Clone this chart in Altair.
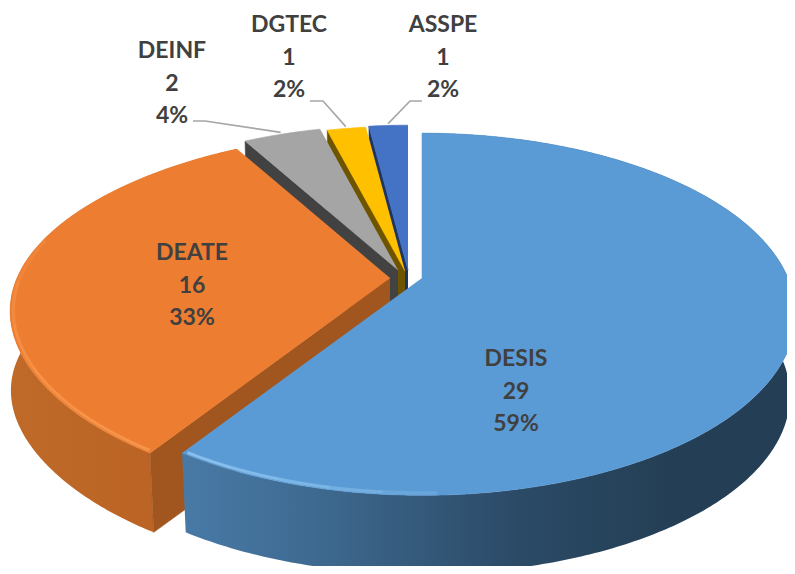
import math
import altair as alt
import pandas as pd

# ---- chart values ----
NAMES = ["DESIS", "DEATE", "DEINF", "DGTEC", "ASSPE"]
COUNTS = [29, 16, 2, 1, 1]
PERCENTS = ["59%", "33%", "4%", "2%", "2%"]

# ---- styles ----
TOP = ["#5b9bd5", "#ed7d31", "#a5a5a5", "#ffc000", "#4472c4"]
CUT = ["#223f57", "#a0561e", "#424242", "#6f5400", "#1f3560"]
INK = "#404040"

# ---- layout (page pixels) ----
APEX = [(422, 278), (390, 278), (398, 270), (405, 271), (408, 270)]
BULGE = [0.0, 0.019, 0.0, 0.0, 0.0]
LOW_BULGE = [0.0, 0.034, 0.0, 0.0, 0.0]
RX, RY, PERSP, DEPTH, SHRINK = 366, 173.8, 0.2, 82, 0.985
W, H = 779, 558
LABEL_XY = [(516, 359), (192, 253), (172, 51), (289, 25), (443, 25)]
LINE_STEP = 32.5
LEADERS = {2: (193, 121, 205, 121), 3: (310, 101, 323, 101), 4: (422, 101, 410, 101)}

X = alt.X("x:Q", axis=None, scale=alt.Scale(domain=[8, 8 + W], nice=False, zero=False))
Y = alt.Y("y:Q", axis=None, scale=alt.Scale(domain=[8 + H, 8], nice=False, zero=False))

total = sum(COUNTS)
edges = [0.0]
for c in COUNTS:
    edges.append(edges[-1] + 360.0 * c / total)


def pt(i, deg, r=1.0, low=False):
    a = math.radians(deg)
    u, v = r * math.sin(a), -r * math.cos(a)
    w = 1 - PERSP * v
    span = math.pi * (deg - edges[i]) / (edges[i + 1] - edges[i])
    bulge = LOW_BULGE[i] if low else BULGE[i]
    dx, dy = RX * u / w * (1 + bulge * math.sin(span) ** 2), RY * v / w
    if low:
        dx, dy = dx * SHRINK, dy * SHRINK + DEPTH
    return APEX[i][0] + dx, APEX[i][1] + dy


def arc(i, a0, a1, r=1.0, low=False):
    n = max(3, int(abs(a1 - a0) * 1.5))
    return [pt(i, a0 + (a1 - a0) * k / n, r, low) for k in range(n + 1)]


def frame(points):
    return pd.DataFrame({"x": [p[0] for p in points], "y": [p[1] for p in points], "i": range(len(points))})


def poly(points, fill):
    mark = dict(fill=fill, clip=True, interpolate="linear")
    if isinstance(fill, str):
        mark.update(stroke=fill, strokeWidth=0.6)
    else:
        mark.update(strokeWidth=0)
    return alt.Chart(frame(points)).mark_line(**mark).encode(x=X, y=Y, order="i:Q")


def stroke(points, color, width=2.0, opacity=1.0):
    return (
        alt.Chart(frame(points))
        .mark_line(stroke=color, strokeWidth=width, opacity=opacity, clip=True, strokeCap="butt")
        .encode(x=X, y=Y, order="i:Q")
    )


def soft(i, a0, a1, color, peak=0.5, r=0.992):
    out = []
    for frac, w in ((1.0, 3.6), (0.8, 3.1), (0.6, 2.6), (0.4, 2.1), (0.2, 1.6)):
        out.append(stroke(arc(i, a0, a0 + (a1 - a0) * frac, r), color, w, peak / 5))
    return out


def grad(*stops):
    return alt.Gradient(
        gradient="linear", x1=0, x2=1, y1=0, y2=0,
        stops=[alt.GradientStop(offset=o, color=c) for o, c in stops],
    )


layers = []
for i in (4, 3, 2):
    a0, a1 = edges[i], edges[i + 1]
    ax, ay = APEX[i]
    layers.append(poly([(ax, ay), pt(i, a0), pt(i, a0, low=True), (ax, ay + DEPTH)], CUT[i]))
    layers.append(poly([(ax, ay)] + arc(i, a0, a1), TOP[i]))

# DEATE
a0, a1 = edges[1], edges[2]
ax, ay = APEX[1]
layers.append(poly(arc(1, a0, a1) + arc(1, a1, a0, low=True),
                   grad((0, "#bf6a28"), (0.6, "#bb6425"), (1, "#b55f22"))))
layers.append(poly([(ax, ay), pt(1, a0), pt(1, a0, low=True), (ax, ay + DEPTH)], CUT[1]))
layers.append(poly([(ax, ay)] + arc(1, a0, a1), TOP[1]))
layers += soft(1, a0 + 0.5, a0 + 70, "#ffa55c", 0.9)

# DESIS
a0, a1 = edges[0], edges[1]
ax, ay = APEX[0]
layers.append(poly(arc(0, 0, a1) + arc(0, a1, 0, low=True),
                   grad((0, "#487aa6"), (0.2, "#3f6b92"), (0.55, "#2b4a66"), (0.8, "#243f55"), (1, "#243f55"))))
layers.append(poly([(ax, ay)] + arc(0, a0, a1), TOP[0]))
layers += soft(0, a1 - 0.5, a1 - 35, "#a6d8ff", 0.9)

for i, (x0, y0, x1, y1) in LEADERS.items():
    mid = (edges[i] + edges[i + 1]) / 2
    tip = pt(i, mid, 1.015)
    layers.append(stroke([(x0, y0), (x1, y1), tip], "#a6a6a6", 1.6))

rows = []
for i, name in enumerate(NAMES):
    lx, ly = LABEL_XY[i]
    for k, txt in enumerate((name, str(COUNTS[i]), PERCENTS[i])):
        rows.append({"x": lx, "y": ly + k * LINE_STEP, "t": txt})
layers.append(
    alt.Chart(pd.DataFrame(rows))
    .mark_text(font="Lato", fontWeight="bold", fontSize=23, color=INK, align="center", baseline="middle")
    .encode(x=X, y=Y, text="t:N")
)

chart = (
    alt.layer(*layers)
    .properties(width=W, height=H, padding=0, background="white", autosize=alt.AutoSizeParams(type="none"))
    .configure_view(strokeWidth=0, strokeOpacity=0)
)
chart.save("out.html", embed_options={"renderer": "svg", "actions": False})
